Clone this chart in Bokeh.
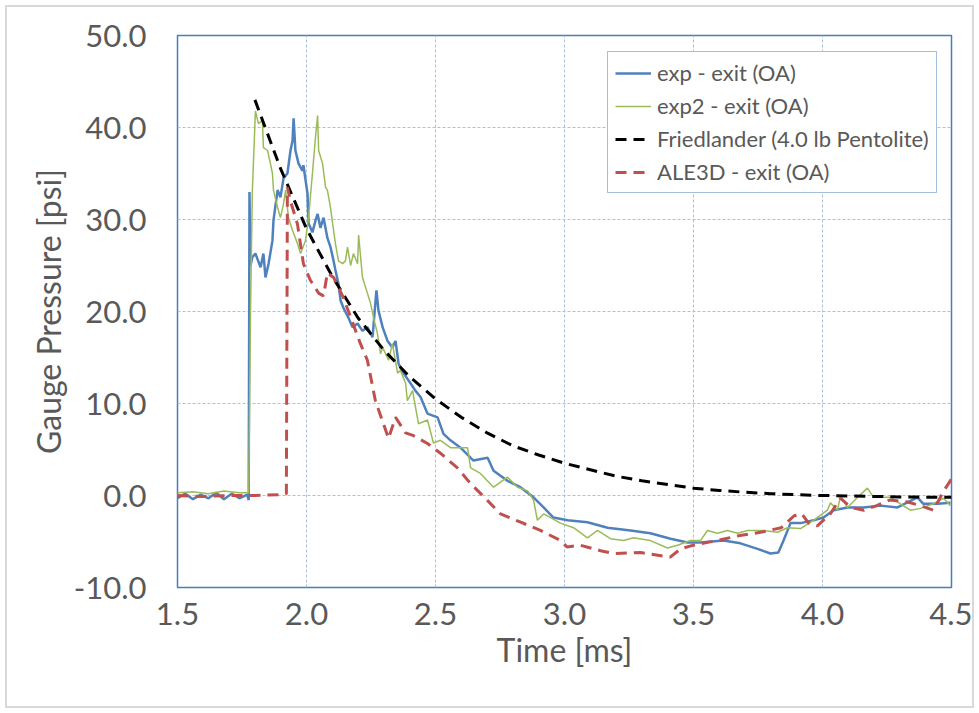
from bokeh.plotting import figure
from bokeh.models import FixedTicker, PrintfTickFormatter, Legend, LegendItem
from bokeh.embed import file_html
from bokeh.resources import INLINE

# ---- data (time in ms, gauge pressure in psi) ----
exp_t = [1.500, 1.530, 1.560, 1.590, 1.620, 1.650, 1.680, 1.710, 1.740, 1.770, 1.776,
         1.779, 1.783, 1.790, 1.802, 1.822, 1.833, 1.841, 1.853, 1.868, 1.872, 1.888,
         1.899, 1.911, 1.926, 1.938, 1.946, 1.950, 1.957, 1.969, 1.984, 1.988, 2.004,
         2.008, 2.023, 2.035, 2.043, 2.054, 2.066, 2.081, 2.093, 2.105, 2.112, 2.124,
         2.132, 2.143, 2.163, 2.178, 2.198, 2.217, 2.236, 2.256, 2.271, 2.279, 2.295,
         2.314, 2.333, 2.345, 2.357, 2.376, 2.403, 2.422, 2.442, 2.469, 2.508, 2.531,
         2.558, 2.597, 2.647, 2.702, 2.725, 2.779, 2.829, 2.880, 2.919, 2.957, 3.012,
         3.089, 3.167, 3.256, 3.333, 3.411, 3.477, 3.527, 3.616, 3.682, 3.748, 3.798,
         3.829, 3.849, 3.876, 3.915, 3.965, 4.004, 4.043, 4.097, 4.159, 4.225, 4.291,
         4.368, 4.391, 4.446, 4.496]
exp_p = [-0.3, 0.2, -0.4, 0.1, -0.3, 0.3, -0.4, 0.2, -0.3, 0.1, -0.5,
         33.0, 25.0, 25.9, 26.3, 24.8, 26.3, 23.7, 25.2, 27.7, 29.9, 33.2,
         32.4, 34.5, 35.0, 37.5, 38.6, 41.0, 37.5, 36.1, 35.3, 35.9, 32.8,
         29.6, 28.6, 29.9, 30.6, 29.1, 30.2, 28.0, 27.0, 25.5, 24.5, 23.0,
         21.2, 20.4, 19.3, 18.3, 18.7, 17.9, 18.3, 17.2, 22.3, 20.1, 18.3,
         16.8, 16.1, 16.8, 14.3, 13.3, 12.2, 11.4, 10.7, 8.9, 8.5, 6.7,
         6.0, 5.2, 3.8, 4.1, 2.7, 1.6, 0.9, -0.2, -1.3, -2.4, -2.7,
         -2.9, -3.5, -3.8, -4.1, -4.7, -5.1, -5.1, -4.9, -5.2, -5.8, -6.3,
         -6.2, -4.9, -3.0, -3.0, -2.7, -2.4, -1.6, -1.3, -1.3, -1.1, -1.3,
         -0.2, -0.9, -0.9, -0.8]

exp2_t = [1.500, 1.560, 1.620, 1.680, 1.740, 1.776, 1.783, 1.790, 1.802, 1.814, 1.829,
          1.833, 1.849, 1.860, 1.868, 1.872, 1.888, 1.899, 1.911, 1.919, 1.930, 1.946,
          1.965, 1.977, 1.996, 2.008, 2.023, 2.035, 2.043, 2.047, 2.062, 2.074, 2.081,
          2.093, 2.101, 2.112, 2.124, 2.140, 2.151, 2.159, 2.171, 2.182, 2.198, 2.202,
          2.217, 2.236, 2.248, 2.260, 2.275, 2.287, 2.295, 2.318, 2.333, 2.353, 2.364,
          2.384, 2.391, 2.411, 2.434, 2.469, 2.492, 2.519, 2.558, 2.597, 2.624, 2.636,
          2.674, 2.725, 2.779, 2.818, 2.857, 2.880, 2.895, 2.919, 2.946, 2.984, 3.035,
          3.089, 3.128, 3.178, 3.229, 3.267, 3.333, 3.399, 3.438, 3.488, 3.527, 3.554,
          3.593, 3.632, 3.671, 3.709, 3.771, 3.826, 3.864, 3.915, 3.965, 4.019, 4.031,
          4.058, 4.070, 4.097, 4.136, 4.174, 4.198, 4.264, 4.302, 4.341, 4.380, 4.430,
          4.469, 4.496]
exp2_p = [0.3, 0.4, 0.2, 0.5, 0.3, 0.3, 20.0, 33.0, 41.8, 40.4, 40.8,
          37.8, 37.5, 36.1, 35.0, 33.2, 31.3, 30.2, 31.7, 33.2, 30.2, 28.8,
          27.4, 26.3, 27.7, 30.2, 35.0, 39.0, 41.3, 37.5, 36.1, 33.5, 33.2,
          31.3, 29.6, 27.4, 25.5, 25.2, 25.5, 27.0, 25.0, 26.3, 25.2, 28.3,
          23.7, 22.0, 20.9, 19.3, 17.6, 15.4, 16.1, 14.7, 16.5, 13.3, 13.6,
          12.2, 10.3, 11.4, 7.8, 8.2, 5.7, 6.0, 5.2, 5.2, 5.2, 3.0,
          2.4, 0.9, 2.0, 0.9, 0.5, -0.5, -2.7, -2.0, -2.4, -3.0, -3.5,
          -4.6, -3.8, -4.7, -4.9, -4.6, -4.9, -5.7, -5.4, -4.9, -4.9, -3.8,
          -4.1, -3.8, -4.1, -3.8, -3.8, -4.0, -3.5, -3.6, -2.7, -1.6, -0.8,
          -1.6, 0.0, -1.3, -0.2, 0.8, -0.2, -0.2, -0.9, -1.6, -1.4, -0.9,
          -0.3, -1.1]

fried_t = [1.80, 1.90, 2.00, 2.10, 2.20, 2.30, 2.40, 2.50, 2.60, 2.70, 2.80, 2.90,
           3.00, 3.10, 3.20, 3.30, 3.40, 3.50, 3.60, 3.70, 3.80, 3.90, 4.00, 4.10,
           4.20, 4.30, 4.40, 4.50]
fried_p = [43.0, 35.5, 29.0, 23.8, 19.3, 15.8, 12.9, 10.5, 8.5, 6.8, 5.4, 4.4,
           3.5, 2.8, 2.1, 1.6, 1.2, 0.8, 0.55, 0.35, 0.2, 0.08, 0.0, -0.05,
           -0.1, -0.15, -0.18, -0.2]

ale_t = [1.500, 1.600, 1.700, 1.800, 1.900, 1.922, 1.926, 1.938, 1.965, 1.988, 2.015,
         2.047, 2.066, 2.081, 2.105, 2.143, 2.209, 2.236, 2.267, 2.318, 2.345, 2.384,
         2.415, 2.469, 2.519, 2.585, 2.636, 2.700, 2.752, 2.830, 2.907, 2.985, 3.010,
         3.060, 3.140, 3.190, 3.295, 3.410, 3.450, 3.500, 3.590, 3.680, 3.760, 3.840,
         3.890, 3.920, 3.946, 3.980, 4.030, 4.070, 4.110, 4.160, 4.210, 4.260, 4.330,
         4.380, 4.430, 4.470, 4.500]
ale_p = [0.0, -0.1, 0.0, 0.0, 0.1, 0.2, 33.5, 32.0, 29.5, 25.2, 23.4,
         22.0, 21.7, 24.2, 23.7, 21.5, 16.5, 14.7, 10.3, 6.2, 8.5, 6.8,
         6.5, 5.65, 4.6, 3.0, 1.3, -0.5, -2.0, -2.9, -3.8, -4.9, -5.6,
         -5.4, -6.0, -6.3, -6.2, -6.7, -5.8, -5.4, -4.9, -4.35, -4.0, -3.5,
         -2.2, -2.0, -3.0, -3.3, -2.0, -0.3, -1.3, -1.6, -1.1, -0.5, -0.7,
         -1.1, -1.6, 0.5, 1.8]

x_ticks = [1.5, 2.0, 2.5, 3.0, 3.5, 4.0, 4.5]
y_ticks = [-10, 0, 10, 20, 30, 40, 50]

labels = ["exp - exit (OA)", "exp2 - exit (OA)",
          "Friedlander (4.0 lb Pentolite)", "ALE3D - exit (OA)"]

FONT = "Lato"
TXT = "#595959"

p = figure(width=965, height=699, x_range=(1.5, 4.5), y_range=(-10, 50),
           output_backend="svg", toolbar_location=None,
           min_border_left=170, min_border_top=28, min_border_right=21,
           min_border_bottom=119, background_fill_color="white",
           border_fill_color="white")
p.styles = {"margin": "7px", "outline": "2px solid #d9d9d9"}

p.outline_line_color = "#4a7ebb"
p.outline_line_width = 1.5

for ax in (p.xaxis[0], p.yaxis[0]):
    ax.major_tick_line_color = None
    ax.minor_tick_line_color = None
    ax.axis_line_color = None
    ax.major_label_text_font = FONT
    ax.major_label_text_font_size = "31px"
    ax.major_label_text_color = TXT
    ax.axis_label_text_font = FONT
    ax.axis_label_text_font_size = "32px"
    ax.axis_label_text_color = TXT
    ax.axis_label_text_font_style = "normal"

p.xaxis[0].ticker = FixedTicker(ticks=x_ticks)
p.yaxis[0].ticker = FixedTicker(ticks=y_ticks)
p.xaxis[0].formatter = PrintfTickFormatter(format="%.1f")
p.yaxis[0].formatter = PrintfTickFormatter(format="%.1f")
p.xaxis[0].axis_label = "Time [ms]"
p.yaxis[0].axis_label = "Gauge Pressure [psi]"
p.xaxis[0].major_label_standoff = 9
p.xaxis[0].axis_label_standoff = 2
p.yaxis[0].major_label_standoff = 25
p.yaxis[0].axis_label_standoff = 3

p.xgrid[0].ticker = FixedTicker(ticks=x_ticks)
p.ygrid[0].ticker = FixedTicker(ticks=y_ticks)
for g in (p.xgrid[0], p.ygrid[0]):
    g.grid_line_color = "#a9c1df"
    g.grid_line_dash = "3 2"
    g.grid_line_width = 1

r1 = p.line(exp_t, exp_p, line_color="#4f81bd", line_width=2.5)
r2 = p.line(exp2_t, exp2_p, line_color="#9bbb59", line_width=1.5)
r3 = p.line(fried_t, fried_p, line_color="black", line_width=3, line_dash="11 7")
r4 = p.line(ale_t, ale_p, line_color="#c0504d", line_width=3, line_dash="11 7")

legend = Legend(items=[LegendItem(label=labels[0], renderers=[r1]),
                       LegendItem(label=labels[1], renderers=[r2]),
                       LegendItem(label=labels[2], renderers=[r3]),
                       LegendItem(label=labels[3], renderers=[r4])],
                location=(430, 394), padding=7, spacing=6,
                glyph_width=36, glyph_height=24, label_height=24,
                label_standoff=6,
                label_text_font=FONT, label_text_font_size="22px",
                label_text_color=TXT,
                border_line_color="#4a7ebb", border_line_width=1.5,
                background_fill_color="white", background_fill_alpha=1.0)
p.add_layout(legend)

open("out.html", "w").write(file_html(p, INLINE))
